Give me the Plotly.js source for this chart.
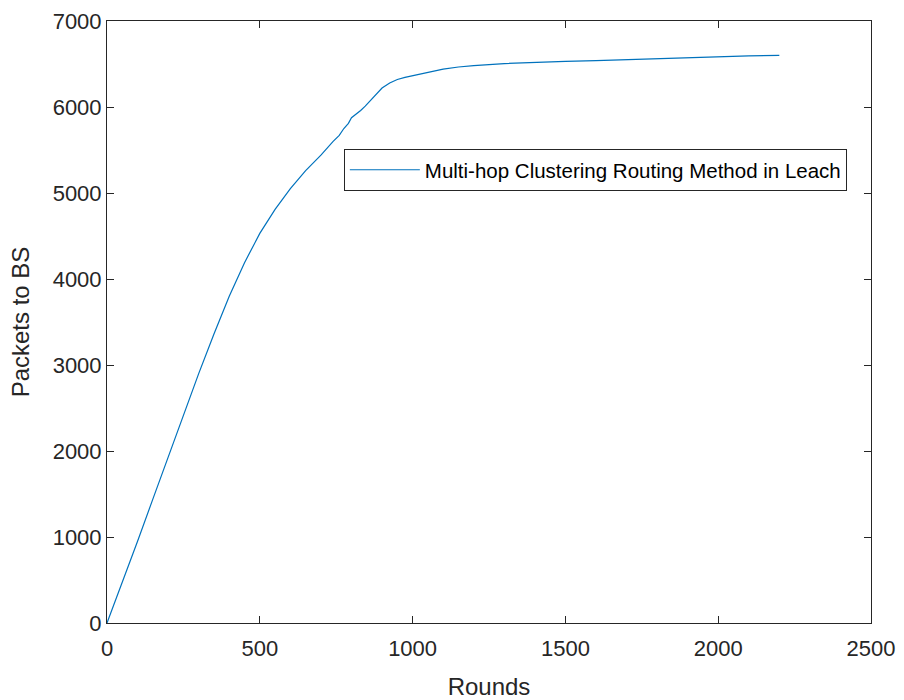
<!DOCTYPE html>
<html>
<head>
<meta charset="utf-8">
<script src="https://cdn.plot.ly/plotly-3.0.1.min.js"></script>
<style>
  html, body { margin: 0; padding: 0; background: #ffffff; }
  #chart { width: 904px; height: 700px; }
</style>
</head>
<body>
<div id="chart"></div>
<script>
// Cumulative packets delivered to the base station per round
const rounds = [0, 50, 100, 150, 200, 250, 300, 350, 400, 450, 500, 550, 600, 650, 700,
  740, 760, 775, 790, 800, 815, 830, 845, 860, 875, 890, 900, 925, 950, 975, 1000,
  1050, 1100, 1150, 1200, 1300, 1400, 1500, 1600, 1700, 1800, 1900, 2000, 2100, 2200];
const packets = [0, 470, 950, 1440, 1930, 2420, 2900, 3360, 3800, 4190, 4530, 4810, 5050, 5260, 5440,
  5600, 5670, 5750, 5810, 5875, 5915, 5960, 6010, 6065, 6130, 6180, 6220, 6280, 6320, 6345, 6365,
  6405, 6440, 6465, 6482, 6505, 6520, 6530, 6540, 6552, 6563, 6575, 6586, 6595, 6600];

const seriesName = 'Multi-hop Clustering Routing Method in Leach';
const xTicks = [0, 500, 1000, 1500, 2000, 2500];
const yTicks = [0, 1000, 2000, 3000, 4000, 5000, 6000, 7000];

const axisColor = '#262626';
const family = '"Liberation Sans", Arial, sans-serif';
const tickFont = { family: family, size: 22, color: axisColor };
const titleFont = { family: family, size: 24, color: axisColor };

const trace = {
  x: rounds,
  y: packets,
  type: 'scatter',
  mode: 'lines',
  name: seriesName,
  line: { color: '#0072BD', width: 1.2 },
  hoverinfo: 'x+y'
};

const axisCommon = {
  showgrid: false,
  zeroline: false,
  showline: true,
  linecolor: axisColor,
  linewidth: 1,
  mirror: 'ticks',
  ticks: 'inside',
  ticklen: 7,
  tickwidth: 1,
  tickcolor: axisColor,
  tickfont: tickFont
};

const layout = {
  width: 904,
  height: 700,
  paper_bgcolor: '#ffffff',
  plot_bgcolor: '#ffffff',
  font: tickFont,
  margin: { l: 107, r: 33, t: 21, b: 77 },
  showlegend: true,
  legend: {
    x: 0.31, y: 0.7875, xanchor: 'left', yanchor: 'top',
    bgcolor: '#ffffff',
    bordercolor: axisColor,
    borderwidth: 1,
    itemwidth: 70,
    font: { family: family, size: 20.5, color: '#000000' }
  },
  xaxis: Object.assign({}, axisCommon, {
    range: [0, 2500],
    tickvals: xTicks,
    ticktext: xTicks.map(String),
    ticklabelstandoff: 6,
    title: { text: 'Rounds', font: titleFont, standoff: 20 }
  }),
  yaxis: Object.assign({}, axisCommon, {
    range: [0, 7000],
    tickvals: yTicks,
    ticktext: yTicks.map(String),
    title: { text: 'Packets to BS', font: titleFont, standoff: 16 }
  })
};

Plotly.newPlot('chart', [trace], layout, { displayModeBar: false, staticPlot: true });
</script>
</body>
</html>
